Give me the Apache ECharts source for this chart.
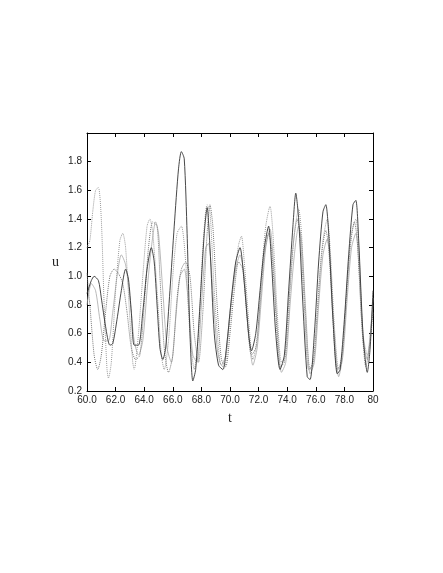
<!DOCTYPE html>
<html><head><meta charset="utf-8">
<script src="https://cdn.jsdelivr.net/npm/echarts@6/dist/echarts.min.js"></script>
<style>html,body{margin:0;padding:0;background:#fff}#c{width:443px;height:573px}</style>
</head><body><div id="c"></div>
<script>
const xTicks = [60, 62, 64, 66, 68, 70, 72, 74, 76, 78, 80];
const yTicks = [0.2, 0.4, 0.6, 0.8, 1.0, 1.2, 1.4, 1.6, 1.8];
const seriesSolid = [[60,0.88],[60.3,0.97],[60.5,1.0],[60.8,0.97],[61.0,0.85],[61.3,0.65],[61.6,0.52],[61.8,0.53],[62.1,0.7],[62.4,0.9],[62.7,1.05],[62.9,0.98],[63.1,0.75],[63.3,0.52],[63.6,0.52],[63.9,0.75],[64.2,1.05],[64.5,1.2],[64.7,1.1],[64.9,0.8],[65.1,0.5],[65.3,0.42],[65.5,0.5],[65.8,0.9],[66.1,1.35],[66.4,1.75],[66.6,1.87],[66.8,1.82],[67.0,1.3],[67.2,0.6],[67.4,0.27],[67.6,0.35],[67.9,0.8],[68.2,1.3],[68.4,1.48],[68.6,1.2],[68.9,0.6],[69.2,0.38],[69.5,0.35],[69.8,0.55],[70.1,0.85],[70.4,1.1],[70.7,1.2],[71.0,0.95],[71.3,0.6],[71.5,0.48],[71.8,0.6],[72.1,0.9],[72.4,1.2],[72.7,1.35],[72.9,1.1],[73.2,0.6],[73.5,0.35],[73.8,0.45],[74.1,0.9],[74.4,1.35],[74.6,1.58],[74.8,1.4],[75.1,0.8],[75.4,0.3],[75.6,0.28],[75.9,0.6],[76.2,1.1],[76.5,1.45],[76.7,1.5],[76.9,1.3],[77.2,0.7],[77.5,0.32],[77.7,0.35],[78.0,0.7],[78.3,1.15],[78.6,1.5],[78.8,1.53],[79.0,1.25],[79.3,0.6],[79.6,0.33],[79.8,0.5],[80,0.9]];
const seriesLightDotted = [[60,1.2],[60.2,1.25],[60.4,1.45],[60.6,1.6],[60.8,1.62],[61.0,1.4],[61.2,0.8],[61.4,0.35],[61.5,0.29],[61.7,0.4],[62.0,0.9],[62.3,1.25],[62.5,1.3],[62.7,1.2],[63.0,0.7],[63.2,0.4],[63.3,0.35],[63.6,0.6],[63.9,1.0],[64.2,1.35],[64.4,1.4],[64.6,1.3],[64.9,0.9],[65.2,0.45],[65.4,0.35],[65.7,0.55],[66.0,1.0],[66.3,1.3],[66.6,1.35],[66.9,1.1],[67.2,0.6],[67.5,0.35],[67.8,0.6],[68.1,1.2],[68.4,1.5],[68.6,1.45],[68.9,0.9],[69.3,0.4],[69.6,0.36],[69.9,0.6],[70.3,1.0],[70.6,1.22],[70.8,1.28],[71.0,1.1],[71.3,0.7],[71.6,0.42],[71.9,0.55],[72.2,1.0],[72.5,1.35],[72.8,1.49],[73.0,1.3],[73.3,0.75],[73.6,0.4],[73.9,0.45],[74.2,0.9],[74.5,1.3],[74.8,1.47],[75.0,1.3],[75.3,0.7],[75.6,0.35],[75.9,0.45],[76.2,0.9],[76.5,1.25],[76.8,1.4],[77.0,1.2],[77.3,0.65],[77.6,0.35],[77.9,0.5],[78.2,0.95],[78.5,1.3],[78.8,1.4],[79.0,1.2],[79.3,0.6],[79.6,0.45],[79.9,0.7],[80,0.8]];
const seriesMidDotted = [[60,1.02],[60.2,0.8],[60.5,0.45],[60.75,0.35],[61.0,0.45],[61.3,0.75],[61.6,1.0],[61.9,1.05],[62.2,1.02],[62.5,0.95],[62.8,0.75],[63.1,0.5],[63.4,0.42],[63.7,0.45],[64.0,0.8],[64.3,1.2],[64.6,1.38],[64.9,1.35],[65.1,1.0],[65.4,0.5],[65.7,0.33],[66.0,0.45],[66.3,0.85],[66.6,1.05],[66.9,1.1],[67.2,1.0],[67.5,0.6],[67.8,0.4],[68.1,0.75],[68.4,1.3],[68.6,1.5],[68.8,1.35],[69.1,0.8],[69.4,0.42],[69.7,0.37],[70.0,0.6],[70.3,0.9],[70.6,1.1],[70.9,1.05],[71.2,0.7],[71.5,0.45],[71.8,0.5],[72.1,0.8],[72.4,1.15],[72.7,1.3],[72.9,1.2],[73.2,0.75],[73.5,0.37],[73.8,0.4],[74.1,0.8],[74.4,1.2],[74.7,1.4],[74.9,1.3],[75.2,0.8],[75.5,0.35],[75.8,0.38],[76.1,0.75],[76.4,1.15],[76.7,1.32],[76.9,1.2],[77.2,0.7],[77.5,0.35],[77.8,0.4],[78.1,0.8],[78.4,1.2],[78.7,1.38],[78.9,1.25],[79.2,0.7],[79.5,0.37],[79.8,0.55],[80,0.75]];
const seriesGrey = [[60,0.8],[60.3,0.95],[60.6,0.9],[60.9,0.7],[61.2,0.55],[61.5,0.55],[61.8,0.75],[62.1,1.0],[62.4,1.15],[62.7,1.08],[63.0,0.85],[63.3,0.55],[63.6,0.45],[63.9,0.55],[64.2,0.9],[64.5,1.2],[64.8,1.38],[65.0,1.3],[65.3,0.9],[65.6,0.5],[65.9,0.4],[66.2,0.7],[66.5,1.0],[66.8,1.05],[67.1,0.8],[67.4,0.45],[67.7,0.4],[68.0,0.8],[68.3,1.2],[68.5,1.23],[68.8,0.9],[69.1,0.5],[69.4,0.38],[69.7,0.45],[70.0,0.75],[70.4,1.05],[70.7,1.15],[71.0,1.0],[71.3,0.6],[71.6,0.38],[71.9,0.5],[72.2,0.85],[72.5,1.2],[72.8,1.33],[73.0,1.15],[73.3,0.65],[73.6,0.33],[73.9,0.4],[74.2,0.8],[74.5,1.15],[74.8,1.35],[75.0,1.25],[75.3,0.75],[75.6,0.32],[75.9,0.4],[76.2,0.8],[76.5,1.15],[76.8,1.26],[77.0,1.1],[77.3,0.6],[77.6,0.3],[77.9,0.45],[78.2,0.85],[78.5,1.2],[78.8,1.3],[79.0,1.1],[79.3,0.55],[79.6,0.42],[79.9,0.7],[80,0.85]];

const chart = echarts.init(document.getElementById('c'), null, {renderer: 'canvas'});
const tickFont = {fontFamily: 'Liberation Sans, Arial, sans-serif', fontSize: 10, color: '#222'};
const axisLine = {show: true, lineStyle: {color: '#000', width: 1}};
const axisTick = {show: true, inside: true, length: 4, lineStyle: {color: '#000', width: 1}};
function line(data, color, type, w) {
  return {type: 'line', data: data, showSymbol: false, symbol: 'none', smooth: 0.25,
    lineStyle: {color: color, width: w, type: type}, z: 2, animation: false};
}
chart.setOption({
  animation: false,
  grid: {left: 87, top: 133, right: 70, bottom: 182, containLabel: false},
  xAxis: [
    {type: 'value', min: xTicks[0], max: xTicks[xTicks.length - 1], interval: 2,
     axisLine: axisLine, axisTick: axisTick, splitLine: {show: false},
     axisLabel: Object.assign({margin: 4, formatter: v => v === 80 ? '80' : v.toFixed(1)}, tickFont),
     name: 't', nameLocation: 'middle', nameGap: 20,
     nameTextStyle: {fontFamily: 'Liberation Serif, Times New Roman, serif', fontSize: 14, color: '#222'}},
    {type: 'value', position: 'top', min: 60, max: 80, interval: 2,
     axisLine: axisLine, axisTick: axisTick, axisLabel: {show: false}, splitLine: {show: false}}
  ],
  yAxis: [
    {type: 'value', min: 0.2, max: 2.0, interval: 0.2,
     axisLine: axisLine, axisTick: axisTick, splitLine: {show: false},
     axisLabel: Object.assign({margin: 5, formatter: v => (Math.abs(v - 2.0) < 1e-6 ? '' : v.toFixed(1))}, tickFont),
     name: 'u', nameLocation: 'middle', nameGap: 28, nameRotate: 0,
     nameTextStyle: {fontFamily: 'Liberation Serif, Times New Roman, serif', fontSize: 14, color: '#222'}},
    {type: 'value', position: 'right', min: 0.2, max: 2.0, interval: 0.2,
     axisLine: axisLine, axisTick: axisTick, axisLabel: {show: false}, splitLine: {show: false}}
  ],
  series: [
    line(seriesGrey, '#a8a8a8', 'solid', 0.8),
    line(seriesMidDotted, '#777', 'dotted', 1),
    line(seriesLightDotted, '#9a9a9a', 'dotted', 1),
    line(seriesSolid, '#333', 'solid', 0.9)
  ]
});
</script></body></html>
